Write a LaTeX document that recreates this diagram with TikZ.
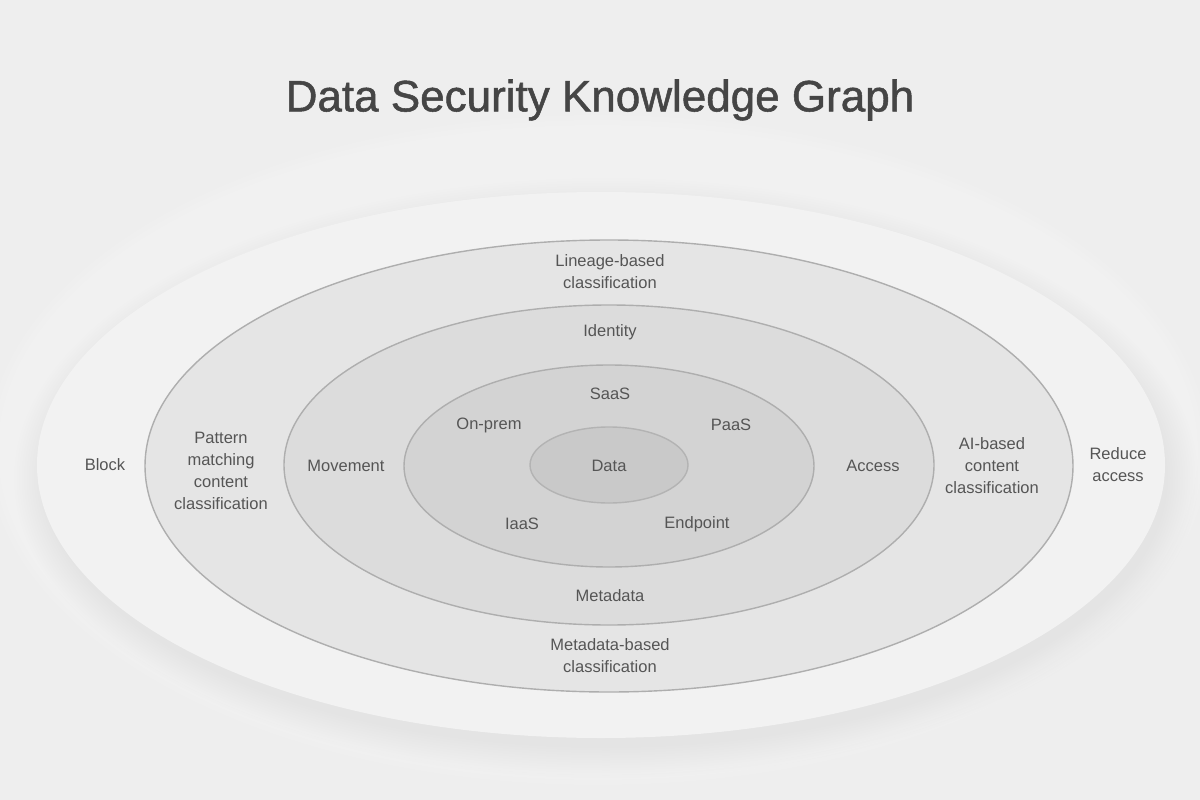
\documentclass[tikz,border=0pt]{standalone}
\usepackage{fontspec}
\setmainfont{Liberation Sans}
\newfontfamily\titlefont[FakeBold=1.2]{Liberation Sans}
\begin{document}
\begin{tikzpicture}[x=1pt,y=-1pt,
  lbl/.style={text=txt,font=\fontsize{16.5}{22}\selectfont,align=center,inner sep=0pt},
  ring/.style={draw=ringline,line width=1.4pt}]
\definecolor{bg}{HTML}{EEEEEE}
\definecolor{txt}{HTML}{555555}
\definecolor{ttl}{HTML}{454545}
\definecolor{ringline}{HTML}{AEAEAE}
\definecolor{f1}{HTML}{F2F2F2}
\definecolor{f2}{HTML}{E5E5E5}
\definecolor{f3}{HTML}{DCDCDC}
\definecolor{f4}{HTML}{D3D3D3}
\definecolor{f5}{HTML}{C9C9C9}
\useasboundingbox (0,0) rectangle (1200,800);
\fill[bg] (0,0) rectangle (1200,800);
% white glow
\foreach \i in {0,...,14}{
  \fill[white,opacity=0.07] (598,450) ellipse [x radius={610-5*\i}, y radius={335-5*\i}];
}
% shadow
\foreach \i in {0,...,12}{
  \fill[black,opacity=0.004] (606,478) ellipse [x radius={562+2.5*\i}, y radius={270+2.5*\i}];
}
% rings
\fill[f1] (601,465) ellipse [x radius=564, y radius=273];
\filldraw[ring,fill=f2] (609,466) ellipse [x radius=464, y radius=226];
\filldraw[ring,fill=f3] (609,465) ellipse [x radius=325, y radius=160];
\filldraw[ring,fill=f4] (609,466) ellipse [x radius=205, y radius=101];
\filldraw[ring,fill=f5,draw=ringline!80!f5] (609,465) ellipse [x radius=79, y radius=38];
% title
\node[text=ttl,font=\titlefont\fontsize{44}{50}\selectfont,inner sep=0pt] (title) at (600,100) {Data Security Knowledge Graph};
% labels
\node[lbl] (lineage) at (610,272) {Lineage-based\\classification};
\node[lbl] (identity) at (610,332) {Identity};
\node[lbl] (saas) at (610,394) {SaaS};
\node[lbl] (onprem) at (489,425) {On-prem};
\node[lbl] (paas) at (731,425) {PaaS};
\node[lbl] (data) at (609,466) {Data};
\node[lbl] (iaas) at (522,524) {IaaS};
\node[lbl] (endpoint) at (697,524) {Endpoint};
\node[lbl] (metadata) at (610,596) {Metadata};
\node[lbl] (metabased) at (610,656) {Metadata-based\\classification};
\node[lbl] (movement) at (346,466) {Movement};
\node[lbl] (access) at (873,466) {Access};
\node[lbl] (pattern) at (221,471) {Pattern\\matching\\content\\classification};
\node[lbl] (aibased) at (992,466) {AI-based\\content\\classification};
\node[lbl] (block) at (105,465) {Block};
\node[lbl] (reduce) at (1118,465) {Reduce\\access};
\end{tikzpicture}
\end{document}
